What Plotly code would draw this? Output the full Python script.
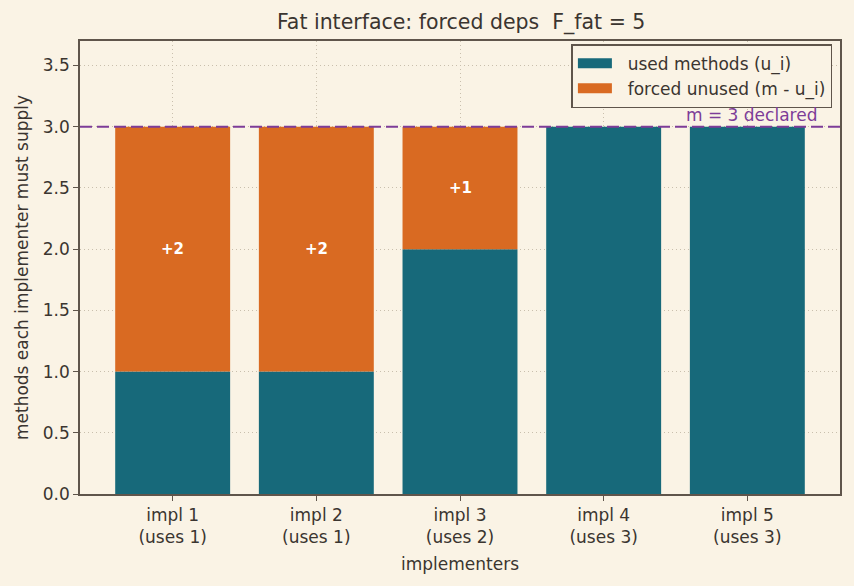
import plotly.graph_objects as go

categories = ["impl 1<br>(uses 1)", "impl 2<br>(uses 1)", "impl 3<br>(uses 2)", "impl 4<br>(uses 3)", "impl 5<br>(uses 3)"]
used = [1, 1, 2, 3, 3]
m_declared = 3
forced = [m_declared - u for u in used]

BG = "#FAF3E5"
TEAL = "#17697A"
ORANGE = "#D96A22"
PURPLE = "#7D3C98"
INK = "#3b3530"
SPINE = "#5f554b"
GRID = "#c9bfad"

x = list(range(len(categories)))

fig = go.Figure()
fig.add_bar(x=x, y=used, name="used methods (u_i)", marker=dict(color=TEAL, line_width=0), width=0.8,
            showlegend=False)
fig.add_bar(x=x, y=forced, base=used, name="forced unused (m - u_i)", marker=dict(color=ORANGE, line_width=0),
            width=0.8, showlegend=False)
# legend proxies (wide rectangle patches)
fig.add_scatter(x=[None], y=[None], mode="lines", line=dict(color=TEAL, width=13),
                name="\u00a0\u00a0used methods (u_i)")
fig.add_scatter(x=[None], y=[None], mode="lines", line=dict(color=ORANGE, width=13),
                name="\u00a0\u00a0forced unused (m - u_i)")

fig.add_shape(type="line", xref="paper", x0=0, x1=1, yref="y", y0=m_declared, y1=m_declared,
              line=dict(color=PURPLE, width=2, dash="12px,5px"))
fig.add_annotation(x=4.5, y=m_declared, xref="x", yref="y", text="m = 3 declared", showarrow=False,
                   xanchor="right", yanchor="bottom", yshift=0, font=dict(color=PURPLE, size=17))

for i, (u, f) in enumerate(zip(used, forced)):
    if f > 0:
        fig.add_annotation(x=i, y=u + f / 2, text=f"<b>+{f}</b>", showarrow=False,
                           font=dict(color="white", size=15))

fig.update_layout(
    width=854, height=586,
    paper_bgcolor=BG, plot_bgcolor=BG,
    font=dict(family="DejaVu Sans", color=INK, size=17),
    title=dict(text="Fat interface: forced deps  F_fat = 5", x=0.54, xanchor="center", y=0.962, yanchor="middle",
               font=dict(size=20.5, color=INK)),
    margin=dict(l=80, r=14, t=41, b=92),
    barmode="overlay",
    showlegend=True,
    legend=dict(x=0.99, y=0.993, xanchor="right", yanchor="top", bgcolor=BG,
                bordercolor=SPINE, borderwidth=1.5, font=dict(size=17), traceorder="normal",
                itemwidth=34, tracegroupgap=0),
    xaxis=dict(tickmode="array", tickvals=x, ticktext=categories, range=[-0.645, 4.645],
               showgrid=True, gridcolor=GRID, griddash="1px,3px", gridwidth=1,
               showline=True, linecolor=SPINE, linewidth=1.5, mirror=True,
               ticks="outside", ticklen=5, tickcolor=SPINE, zeroline=False,
               tickfont=dict(size=17),
               title=dict(text="implementers", font=dict(size=17), standoff=12)),
    yaxis=dict(range=[0, 3.7], tickvals=[0, 0.5, 1, 1.5, 2, 2.5, 3, 3.5],
               ticktext=["0.0", "0.5", "1.0", "1.5", "2.0", "2.5", "3.0", "3.5"],
               showgrid=True, gridcolor=GRID, griddash="1px,3px", gridwidth=1,
               showline=True, linecolor=SPINE, linewidth=1.5, mirror=True,
               ticks="outside", ticklen=5, tickcolor=SPINE, zeroline=False,
               tickfont=dict(size=17),
               title=dict(text="methods each implementer must supply", font=dict(size=17), standoff=10)),
)

fig.write_html("out.html")
